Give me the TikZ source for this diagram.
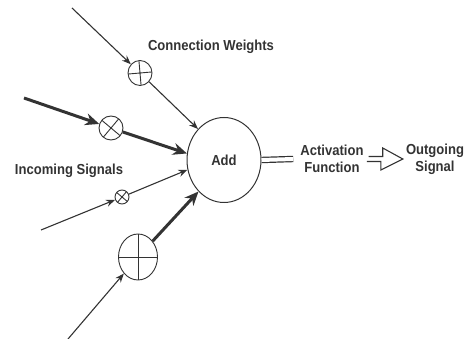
\documentclass[tikz,border=0pt]{standalone}
\usepackage{fontspec}
\setmainfont{Liberation Sans}[FakeStretch=0.9]
\usetikzlibrary{arrows.meta,shapes.geometric}
\definecolor{ink}{gray}{0.2}
\tikzset{
  lbl/.style={font=\bfseries\fontsize{14.5}{17}\selectfont, text=ink, align=center, inner sep=0pt},
  thinarrow/.style={draw=ink, line width=1.1pt, -{Stealth[length=9pt,width=7pt]}},
  thickarrow/.style={draw=ink, line width=3pt, -{Stealth[length=14pt,width=12pt]}},
  crossangle/.style={/utils/exec=\def\crossang{#1}},
  wgt/.style={draw=ink, ellipse, line width=0.9pt, inner sep=0pt, crossangle=0,
    path picture={
      \draw[ink, line width=0.9pt] (path picture bounding box.center)
        +(\crossang:40) -- +(\crossang+180:40)
        +(\crossang+90:40) -- +(\crossang-90:40);}},
}
\begin{document}
\begin{tikzpicture}[x=1pt,y=-1pt]
  \useasboundingbox (0,0) rectangle (466,339);

  % summing unit
  \node[draw=ink, ellipse, line width=1pt, minimum width=74pt, minimum height=85pt,
        font=\bfseries\fontsize{14.5}{17}\selectfont, text=ink] (add) at (224,160) {Add};

  % connection weights
  \node[wgt, minimum width=24pt, minimum height=25pt, crossangle=-5] (w1) at (140,73) {};
  \node[wgt, minimum width=24pt, minimum height=24pt, crossangle=40] (w2) at (111,128) {};
  \node[wgt, minimum width=14pt, minimum height=14pt, crossangle=40] (w3) at (122,197) {};
  \node[wgt, minimum width=39pt, minimum height=46pt, crossangle=0] (w4) at (138,257) {};

  % loose ends of the incoming signals
  \coordinate (s1) at (72,8);
  \coordinate (s2) at (24,98);
  \coordinate (s3) at (41,230);
  \coordinate (s4) at (68,339);

  \draw[thinarrow] (s1) -- (w1);
  \draw[thickarrow] (s2) -- (w2);
  \draw[thinarrow] (s3) -- (w3);
  \draw[thinarrow] (s4) -- (w4);

  \draw[thinarrow] (w1) -- (add.130);
  \draw[thickarrow] (w2) -- (add.170);
  \draw[thinarrow] (w3) -- (add.195);
  \draw[thickarrow] (w4) -- (add.231);

  % labels
  \node[lbl] (cw) at (211,47) {Connection Weights};
  \node[lbl] (ins) at (69,171) {Incoming Signals};
  \node[lbl] (act) at (332,159) {Activation\\Function};
  \node[lbl] (out) at (435,159) {Outgoing\\Signal};

  % output path
  \draw[ink, double=white, double distance=4pt, line width=1.2pt]
    (add.east) -- ([xshift=-7pt]act.west);
  \coordinate (a1) at ([xshift=5pt]act.east);
  \coordinate (a2) at ([xshift=-3pt]out.west);
  \draw[ink, line width=1.1pt, line join=miter]
    (a1) ++(0,-2.5) -- ++(14,0) -- ++(0,-8.5) -- (a2) -- ++(-22,11) -- ++(0,-8.5) -- ++(-14,0);
\end{tikzpicture}
\end{document}
